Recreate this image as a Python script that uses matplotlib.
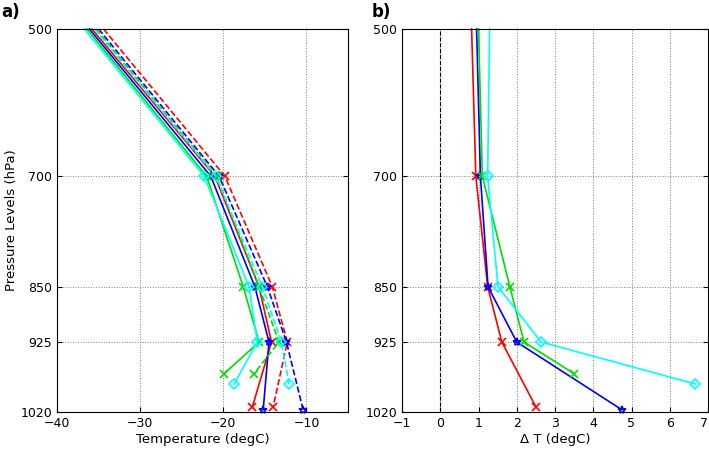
import numpy as np
import matplotlib.pyplot as plt

# pressure levels (hPa); lowest level differs per series
p_red = [500, 700, 850, 925, 1013]
p_blue = [500, 700, 850, 925, 1017]
p_green = [500, 700, 850, 925, 968]
p_cyan = [500, 700, 850, 925, 982]

# panel a: temperature profiles (solid / dashed)
t_red = [-35.8, -21.0, -15.7, -14.2, -16.5]
t_blue = [-36.1, -21.5, -16.2, -14.5, -15.2]
t_green = [-36.4, -22.0, -17.6, -15.7, -19.9]
t_cyan = [-36.7, -22.3, -16.9, -15.9, -18.7]
t_red_d = [-34.4, -19.8, -14.1, -12.3, -14.0]
t_blue_d = [-35.0, -20.5, -14.7, -12.4, -10.4]
t_green_d = [-35.3, -20.8, -15.7, -13.3, -16.3]
t_cyan_d = [-35.5, -20.9, -15.3, -13.0, -12.1]

# panel b: temperature differences
d_red = [0.82, 0.93, 1.24, 1.61, 2.5]
d_blue = [0.95, 1.05, 1.25, 2.0, 4.75]
d_green = [1.0, 1.1, 1.82, 2.19, 3.5]
d_cyan = [1.29, 1.24, 1.51, 2.64, 6.67]

yticks = [500, 700, 850, 925, 1020]

fig = plt.figure(figsize=(7.09, 4.61), dpi=100)
ax1 = fig.add_axes([57/709, 1-412/461, 291/709, 383/461])
ax2 = fig.add_axes([402/709, 1-412/461, 306/709, 383/461])

series = [(p_red, 'red', 'x', t_red, t_red_d, d_red),
          (p_blue, 'blue', '*', t_blue, t_blue_d, d_blue),
          (p_green, '#00dd00', 'x', t_green, t_green_d, d_green),
          (p_cyan, 'cyan', 'D', t_cyan, t_cyan_d, d_cyan)]

for p, c, m, ts, td, dd in series:
    kw = dict(color=c, marker=m, markersize=6 if m != 'D' else 5, mfc='none',
              mew=1.2, lw=1.2, markevery=[1, 2, 3, 4], clip_on=False)
    ax1.plot(ts, p, '-', **kw)
    ax1.plot(td, p, '--', **kw)
    ax2.plot(dd, p, '-', **kw)

ax2.axvline(0, color='k', ls='--', lw=0.8)

for ax in (ax1, ax2):
    ax.set_ylim(1020, 500)
    ax.set_yticks(yticks)
    ax.grid(True, ls=':', color='gray', lw=0.7)
    ax.tick_params(direction='in', right=True, top=False, labelsize=9)

ax1.set_xlim(-40, -5)
ax1.set_xticks([-40, -30, -20, -10])
ax1.set_xlabel('Temperature (degC)', fontsize=9.5, labelpad=2)
ax1.set_ylabel('Pressure Levels (hPa)', fontsize=9.5, labelpad=2)
ax2.set_xlim(-1, 7)
ax2.set_xticks(range(-1, 8))
ax2.set_xlabel('Δ T (degC)', fontsize=9.5, labelpad=2)
ax2.get_xticklabels()[-1].set_horizontalalignment('right')

fig.text(0.002, 0.975, 'a)', fontsize=12, fontweight='bold', va='center')
fig.text(372/709, 0.975, 'b)', fontsize=12, fontweight='bold', va='center')

fig.savefig('out.png', dpi=100)
